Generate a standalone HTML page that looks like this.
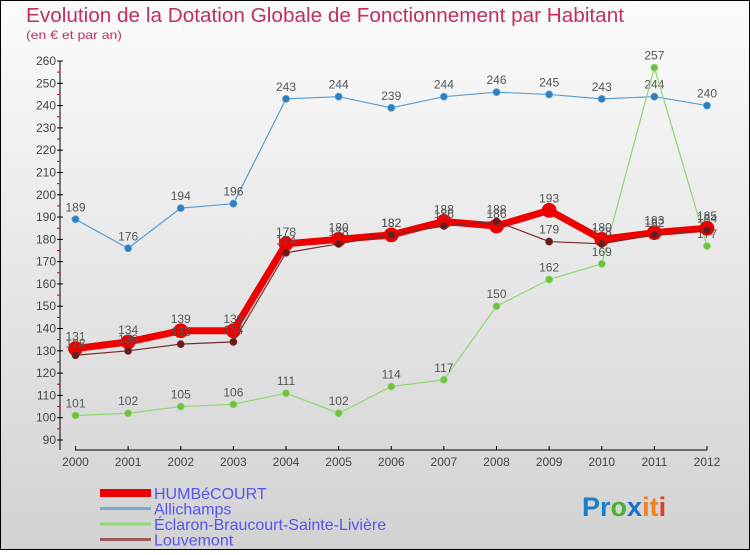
<!DOCTYPE html>
<html><head><meta charset="utf-8"><style>
body{margin:0;width:750px;height:550px;overflow:hidden;font-family:"Liberation Sans",sans-serif}
svg text{font-family:"Liberation Sans",sans-serif}
</style></head><body>
<svg id="c" width="750" height="550" xmlns="http://www.w3.org/2000/svg">
<defs><linearGradient id="bg" x1="0" y1="0" x2="0" y2="1"><stop offset="0" stop-color="#fbfbfb"/><stop offset="1" stop-color="#d2d2d2"/></linearGradient></defs>
<rect x="0.5" y="0.5" width="749" height="549" fill="url(#bg)" stroke="#000"/>
<text x="26" y="22" font-size="20" fill="#c0305a" textLength="598" lengthAdjust="spacingAndGlyphs">Evolution de la Dotation Globale de Fonctionnement par Habitant</text>
<text x="26" y="39" font-size="12" fill="#c0305a" textLength="96" lengthAdjust="spacingAndGlyphs">(en € et par an)</text>
<g id="axes"></g><g id="series"></g><g id="legend"></g>
<text x="582" y="516" font-size="27" font-weight="bold"><tspan fill="#1a7fc8">Pr</tspan><tspan fill="#4caf30">o</tspan><tspan fill="#1a6fc8">x</tspan><tspan fill="#f08020">it</tspan><tspan fill="#e04020">i</tspan></text>
</svg>
<script>
const years=[2000,2001,2002,2003,2004,2005,2006,2007,2008,2009,2010,2011,2012];
const yTicks=[90,100,110,120,130,140,150,160,170,180,190,200,210,220,230,240,250,260];
const humbecourt=[131,134,139,139,178,180,182,188,186,193,180,183,185];
const allichamps=[189,176,194,196,243,244,239,244,246,245,243,244,240];
const eclaron=[101,102,105,106,111,102,114,117,150,162,169,257,177];
const louvemont=[128,130,133,134,174,178,182,186,188,179,178,182,184];
const NS='http://www.w3.org/2000/svg';
const X=i=>75.5+i*(707-75.5)/12;
const Y=v=>61+(260-v)*(440-61)/170;
function mk(t,a,p){const e=document.createElementNS(NS,t);for(const k in a)e.setAttribute(k,a[k]);p.appendChild(e);return e;}
const ax=document.getElementById('axes');
let l=mk('line',{x1:60,y1:61,x2:60,y2:450,stroke:'#000'},ax);


l=mk('line',{x1:75,y1:450,x2:707,y2:450,stroke:'#000'},ax);


yTicks.forEach(v=>{const y=Y(v);mk('line',{x1:57,y1:y,x2:63,y2:y,stroke:'#000'},ax);
if(v<260)mk('line',{x1:57,y1:y-11.15,x2:60,y2:y-11.15,stroke:'#e00'},ax);
const t=mk('text',{x:56,y:y+4,'font-size':12,fill:'#444','text-anchor':'end'},ax);t.textContent=v;

});
years.forEach((yr,i)=>{const x=X(i);mk('line',{x1:x,y1:446,x2:x,y2:450,stroke:'#000'},ax);
const t=mk('text',{x:x,y:466,'font-size':12,fill:'#444','text-anchor':'middle'},ax);t.textContent=yr;

});
const sg=document.getElementById('series');
function series(d,name,color,w,r,pc){const g=mk('g',{},sg);


mk('polyline',{points:d.map((v,i)=>X(i)+','+Y(v)).join(' '),fill:'none',stroke:color,'stroke-width':w,'stroke-linejoin':'round'},g);
d.forEach((v,i)=>{const c=mk('circle',{cx:X(i),cy:Y(v),r:r,fill:pc,stroke:color,'stroke-width':0.8},g);


const t=mk('text',{x:X(i),y:Y(v)-8,'font-size':12,fill:'#555','text-anchor':'middle'},g);t.textContent=v;

});}
series(allichamps,'allichamps','#5a9fd4',1.2,3.5,'#2f7fc0');
series(eclaron,'eclaron','#90d870',1.2,3.5,'#70c040');
series(humbecourt,'humbecourt','#ee0000',7,7,'#ee0000');
series(louvemont,'louvemont','#7a2a2a',1.2,3.5,'#6a1a1a');
const lg=document.getElementById('legend');
[['HUMBéCOURT','#ee0000',8],['Allichamps','#7aaad0',3],['Éclaron-Braucourt-Sainte-Livière','#90d870',3],['Louvemont','#9a5a5a',3]].forEach((e,i)=>{
const y=493+i*15.5;const g=mk('g',{},lg);


mk('line',{x1:100,y1:y,x2:151,y2:y,stroke:e[1],'stroke-width':e[2]},g);
const t=mk('text',{x:154,y:y+6,'font-size':16,fill:'#5555ee'},g);t.textContent=e[0];});
</script>
</body></html>
